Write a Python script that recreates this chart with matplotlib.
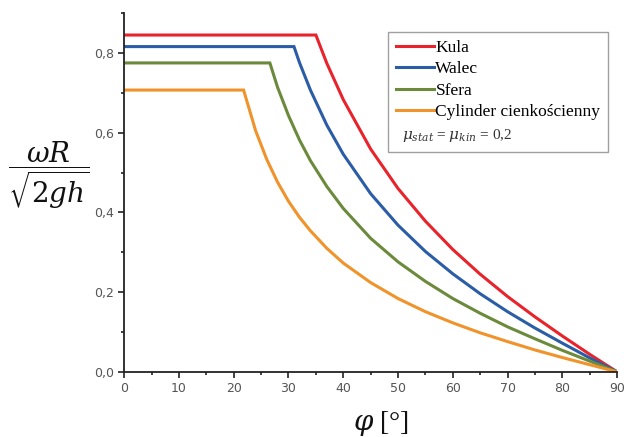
import matplotlib
matplotlib.use("Agg")
import matplotlib.pyplot as plt
from matplotlib.lines import Line2D
from matplotlib.ticker import MultipleLocator, FuncFormatter

plt.rcParams['mathtext.fontset'] = 'dejavuserif'

# Data
labels = ["Kula", "Walec", "Sfera", "Cylinder cienkościenny"]
colors = ["#e8232b", "#2b5da6", "#6b8a3c", "#f0932b"]

phi_kula = [0, 35, 37, 40, 45, 50, 55, 60, 65, 70, 75, 80, 85, 90]
val_kula = [0.845, 0.845, 0.774, 0.683, 0.559, 0.460, 0.378, 0.307, 0.245, 0.189, 0.138, 0.090, 0.044, 0.0]

phi_walec = [0, 31, 32, 34, 37, 40, 45, 50, 55, 60, 65, 70, 75, 80, 85, 90]
val_walec = [0.816, 0.816, 0.776, 0.707, 0.619, 0.546, 0.447, 0.368, 0.302, 0.246, 0.196, 0.151, 0.110, 0.072, 0.035, 0.0]

phi_sfera = [0, 26.6, 28, 30, 32, 34, 37, 40, 45, 50, 55, 60, 65, 70, 75, 80, 85, 90]
val_sfera = [0.775, 0.775, 0.714, 0.643, 0.582, 0.530, 0.465, 0.410, 0.335, 0.276, 0.227, 0.184, 0.147, 0.113, 0.083, 0.054, 0.027, 0.0]

phi_cyl = [0, 21.8, 24, 26, 28, 30, 32, 34, 37, 40, 45, 50, 55, 60, 65, 70, 75, 80, 85, 90]
val_cyl = [0.707, 0.707, 0.605, 0.534, 0.476, 0.428, 0.388, 0.354, 0.310, 0.273, 0.224, 0.184, 0.151, 0.123, 0.098, 0.076, 0.055, 0.036, 0.018, 0.0]

mu_label = r'$\mu_{stat}$ = $\mu_{kin}$ = 0,2'

series_phi = [phi_kula, phi_walec, phi_sfera, phi_cyl]
series_val = [val_kula, val_walec, val_sfera, val_cyl]

fig = plt.figure(figsize=(6.24, 4.37), dpi=100)
ax = fig.add_axes([0.199, 0.149, 0.790, 0.821])

handles = []
for p, v, c, lab in zip(series_phi, series_val, colors, labels):
    h, = ax.plot(p, v, color=c, lw=2.2, label=lab, solid_joinstyle='miter')
    handles.append(h)

ax.set_xlim(0, 90)
ax.set_ylim(0, 0.9)
ax.xaxis.set_major_locator(MultipleLocator(10))
ax.xaxis.set_minor_locator(MultipleLocator(5))
ax.yaxis.set_major_locator(MultipleLocator(0.2))
ax.yaxis.set_minor_locator(MultipleLocator(0.1))
ax.yaxis.set_major_formatter(FuncFormatter(lambda v, pos: f"{v:.1f}".replace('.', ',')))
ax.xaxis.set_major_formatter(FuncFormatter(lambda v, pos: f"{int(round(v))}"))

for s in ['top', 'right']:
    ax.spines[s].set_visible(False)
for s in ['left', 'bottom']:
    ax.spines[s].set_linewidth(1.3)
    ax.spines[s].set_color('#222222')

ax.tick_params(which='major', direction='out', length=4, width=1.2, colors='#222222',
               labelsize=9, labelcolor='#555555')
ax.tick_params(which='minor', direction='out', length=2.5, width=1.2, colors='#222222')

blank = Line2D([], [], color='none')
leg = ax.legend(handles + [blank], labels + [mu_label], loc='upper right',
                bbox_to_anchor=(0.982, 0.947), frameon=True, fancybox=False,
                edgecolor='#888888', prop={'family': 'Liberation Serif', 'size': 12.5},
                handlelength=2.2, handletextpad=0.1, borderpad=0.45, labelspacing=0.3,
                borderaxespad=0)
leg.get_frame().set_linewidth(1.0)
leg.get_texts()[4].set_alpha(0)

ax.text(0.564, 0.66, mu_label, transform=ax.transAxes, zorder=10,
        fontsize=11, family='Liberation Serif', color='#333333', va='center', ha='left')

fig.text(0.079, 0.600, r'$\dfrac{\omega R}{\sqrt{2gh}}$', fontsize=20, ha='center', va='center',
         color='#111111')
fig.text(0.610, 0.032, r'$\varphi$ [°]', fontsize=20, ha='center', va='center',
         family='Liberation Serif', color='#111111')

fig.savefig("out.png", dpi=100)
